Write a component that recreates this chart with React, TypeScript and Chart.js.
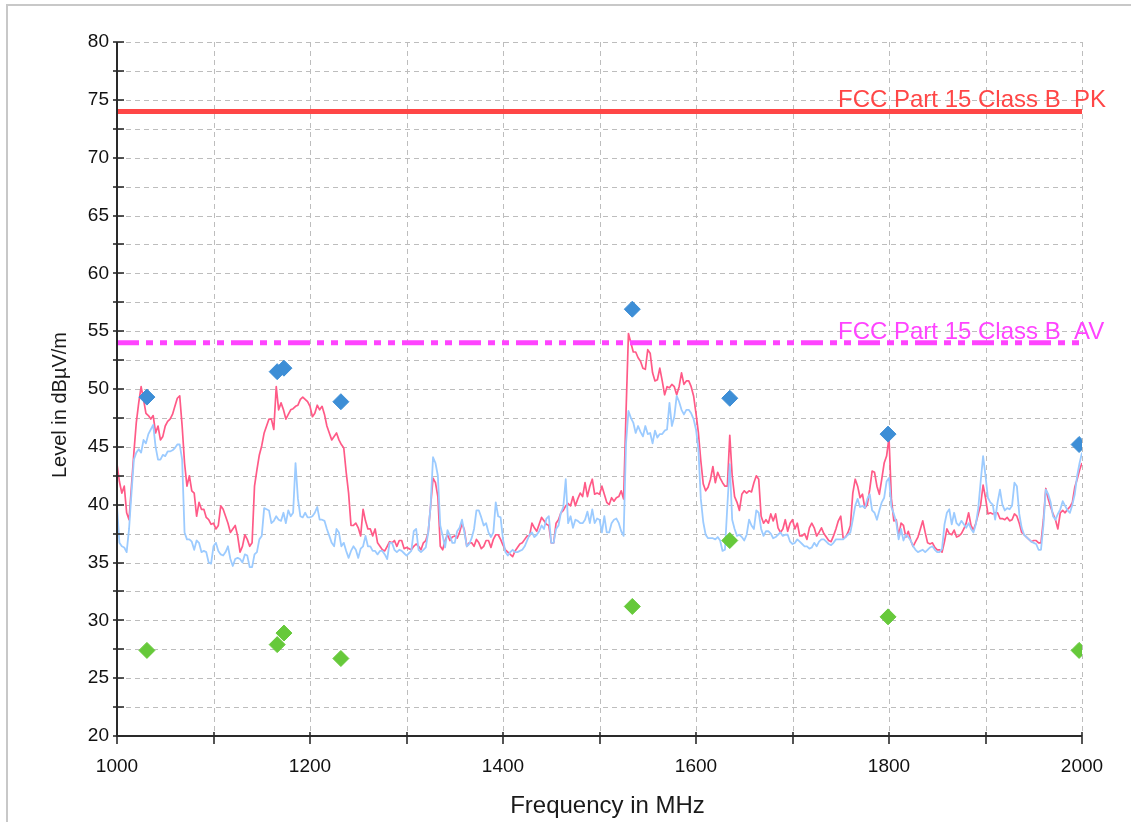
import { useEffect, useRef } from "react";
import { Chart, registerables } from "chart.js";

Chart.register(...registerables);

// Sweep grid of the measurement receiver (MHz)
const START_MHZ = 1000;
const STEP_MHZ = 2.5;

// Peak detector trace, dBµV/m, one value every STEP_MHZ
const PEAK_TRACE = [
  43.5, 42.0, 41.0, 41.6, 39.3, 38.7, 41.6, 44.5, 47.1, 48.8,
  50.2, 49.1, 47.9, 47.7, 47.4, 47.7, 46.2, 46.8, 45.6, 45.9,
  46.8, 47.2, 47.4, 47.8, 48.5, 49.2, 49.4, 46.8, 43.6, 41.6,
  42.5, 41.2, 41.0, 39.0, 40.2, 39.6, 39.6, 38.9, 38.7, 38.3,
  38.4, 37.9, 38.2, 39.9, 39.6, 39.0, 38.4, 37.6, 37.9, 38.2,
  37.3, 35.9, 36.4, 37.4, 37.0, 36.4, 36.7, 41.6, 43.0, 44.3,
  45.1, 46.2, 46.8, 47.4, 47.4, 46.5, 50.2, 48.2, 48.8, 48.2,
  47.4, 47.8, 48.2, 48.3, 48.5, 48.6, 49.1, 49.3, 49.1, 48.9,
  48.5, 47.6, 47.9, 48.6, 48.2, 48.5, 47.8, 46.8, 46.2, 45.6,
  45.9, 46.2, 45.6, 45.2, 44.9, 42.8, 41.0, 38.2, 38.2, 38.4,
  38.0, 37.3, 39.6, 38.6, 37.9, 37.9, 37.3, 37.9, 36.7, 36.4,
  36.1, 36.0, 36.4, 36.8, 36.7, 36.9, 36.4, 36.9, 36.9, 36.2,
  36.3, 36.2, 36.1, 36.4, 36.6, 36.4, 36.1, 36.7, 36.9, 37.6,
  39.9, 42.3, 41.9, 40.7, 36.4, 36.1, 36.9, 37.4, 36.9, 37.2,
  37.3, 37.1, 37.6, 38.4, 37.8, 36.4, 36.7, 36.7, 36.4, 37.0,
  36.7, 36.2, 36.4, 36.9, 36.9, 36.3, 37.0, 37.4, 37.4, 37.0,
  36.5, 36.1, 35.9, 35.7, 35.5, 36.0, 36.3, 36.6, 36.7, 37.0,
  37.3, 37.3, 38.4, 38.0, 37.7, 38.3, 38.9, 38.6, 38.3, 38.2,
  36.7, 36.7, 38.4, 38.7, 39.3, 39.5, 39.9, 40.1, 39.9, 40.7,
  39.9, 40.5, 41.0, 40.7, 41.9, 40.7, 41.6, 42.2, 40.9, 41.0,
  40.9, 41.6, 40.9, 40.2, 40.0, 40.6, 40.3, 40.6, 40.7, 41.2,
  40.5, 48.0, 54.8, 54.0, 53.2, 53.2, 52.7, 52.4, 51.8, 51.7,
  53.4, 53.1, 51.4, 50.7, 50.8, 51.8, 50.7, 49.5, 50.2, 50.1,
  50.4, 50.2, 49.5, 50.2, 51.4, 50.4, 50.7, 50.7, 50.2, 49.4,
  47.9, 46.2, 43.8, 41.8, 41.2, 41.5, 42.2, 43.3, 41.9, 42.8,
  42.3, 41.9, 41.6, 41.6, 46.0, 42.5, 40.7, 40.2, 39.5, 40.9,
  41.2, 41.0, 41.2, 41.1, 41.9, 42.5, 42.2, 39.0, 38.4, 38.7,
  38.4, 39.2, 38.6, 39.2, 38.0, 37.6, 37.9, 38.7, 37.7, 38.4,
  38.7, 37.9, 38.4, 37.3, 37.3, 37.5, 37.0, 38.0, 38.4, 38.0,
  37.3, 37.6, 38.0, 37.5, 37.2, 36.9, 36.8, 37.3, 37.9, 38.6,
  39.0, 37.1, 37.2, 37.6, 38.2, 41.0, 42.2, 41.6, 40.6, 40.9,
  39.7, 40.0, 41.3, 42.9, 42.8, 41.6, 40.9, 42.2, 43.6, 44.2,
  45.8, 40.5, 38.6, 38.7, 37.3, 38.4, 38.2, 37.2, 37.7, 36.9,
  36.4, 36.8, 37.2, 37.9, 38.6, 37.6, 36.7, 36.6, 36.7, 36.3,
  36.1, 36.1, 35.9, 36.8, 37.9, 37.5, 37.4, 37.8, 37.2, 37.3,
  37.5, 37.9, 38.4, 39.3, 38.2, 37.8, 38.4, 39.2, 40.0, 41.7,
  40.6, 39.2, 39.3, 39.2, 39.3, 39.3, 38.8, 38.8, 38.7, 38.9,
  38.6, 38.7, 39.2, 39.0, 38.4, 37.6, 37.4, 37.2, 37.0, 36.8,
  36.9, 36.9, 36.7, 36.7, 38.7, 41.4, 40.5, 39.8, 39.2, 38.7,
  37.9, 39.3, 39.5, 39.3, 39.6, 39.8, 40.2, 41.5, 42.2, 43.0,
  43.6,
];

// Average detector trace, dBµV/m, one value every STEP_MHZ
const AVERAGE_TRACE = [
  39.9, 36.7, 36.4, 36.3, 35.9, 37.9, 41.0, 43.9, 44.5, 44.8,
  44.5, 45.6, 45.3, 46.1, 46.5, 46.9, 45.0, 43.9, 43.9, 44.3,
  44.2, 44.6, 44.6, 44.7, 44.9, 45.2, 45.2, 43.9, 37.6, 37.0,
  37.0, 36.8, 36.1, 36.9, 36.7, 35.9, 36.0, 35.9, 35.0, 34.9,
  36.4, 36.7, 36.0, 35.7, 35.6, 35.9, 36.4, 35.3, 34.7, 35.3,
  35.4, 35.3, 35.0, 35.7, 35.6, 34.6, 34.6, 35.7, 35.9, 37.0,
  37.3, 39.7, 39.6, 39.5, 38.4, 38.6, 39.0, 38.7, 38.6, 39.3,
  38.4, 39.5, 39.0, 39.3, 43.6, 40.5, 39.0, 38.9, 39.3, 38.9,
  38.9, 39.0, 39.3, 39.8, 38.7, 38.7, 38.6, 37.9, 37.3, 36.7,
  36.4, 37.9, 37.6, 36.4, 36.7, 36.0, 35.4, 36.0, 36.4, 36.1,
  35.4, 36.2, 36.4, 37.3, 36.4, 36.4, 36.0, 36.0, 35.7, 36.0,
  36.0, 35.7, 35.3, 36.7, 36.7, 36.1, 35.9, 36.1, 36.0, 35.8,
  35.6, 35.8, 36.0, 37.7, 37.9, 36.1, 35.9, 36.1, 36.3, 37.6,
  39.9, 44.1, 43.6, 42.5, 38.2, 37.3, 36.3, 37.8, 37.3, 36.7,
  36.7, 37.7, 38.0, 38.7, 37.6, 36.4, 36.6, 37.1, 37.9, 39.5,
  39.5, 38.9, 38.2, 38.4, 37.6, 37.2, 37.6, 40.2, 39.0, 38.9,
  37.0, 35.9, 35.6, 35.9, 36.1, 35.9, 35.9, 36.0, 36.1, 36.4,
  36.9, 37.4, 37.6, 37.2, 37.4, 37.7, 38.2, 37.9, 38.8, 39.0,
  36.7, 36.7, 37.9, 38.2, 39.3, 39.8, 42.2, 38.4, 39.0, 38.0,
  38.7, 38.6, 38.4, 38.4, 38.7, 39.4, 38.4, 39.6, 38.4, 38.8,
  38.7, 37.6, 39.0, 37.6, 37.6, 38.4, 38.7, 38.8, 38.4, 37.7,
  37.3, 45.3, 48.1, 47.5, 47.1, 46.2, 46.8, 46.3, 45.9, 46.8,
  46.1, 46.2, 45.3, 46.4, 45.8, 46.1, 46.1, 46.4, 46.5, 48.8,
  46.8, 47.6, 49.4, 48.9, 48.2, 47.8, 48.2, 48.2, 47.9, 47.4,
  46.5, 44.8, 40.5, 38.5, 37.4, 37.1, 37.1, 37.1, 37.0, 37.2,
  36.9, 36.0, 36.1, 39.9, 43.5, 38.7, 37.9, 37.3, 37.4, 37.2,
  36.9, 37.4, 38.7, 38.2, 37.9, 39.5, 39.3, 37.9, 37.3, 37.7,
  37.7, 37.5, 37.1, 37.2, 37.4, 37.6, 37.3, 37.4, 37.4, 36.8,
  36.6, 36.7, 37.0, 36.8, 36.6, 36.4, 36.4, 36.2, 36.3, 36.7,
  36.4, 36.8, 37.0, 37.0, 36.8, 36.6, 36.5, 36.7, 37.0, 37.0,
  37.0, 37.0, 37.2, 37.4, 37.6, 38.7, 39.9, 40.5, 39.8, 39.9,
  39.7, 40.5, 40.9, 39.5, 39.3, 38.7, 39.5, 40.2, 40.6, 42.0,
  42.3, 39.8, 39.2, 38.5, 37.0, 37.9, 36.9, 37.4, 37.2, 36.9,
  36.4, 36.1, 35.9, 36.0, 36.1, 35.9, 36.1, 36.3, 36.4, 36.1,
  35.9, 35.9, 36.2, 38.3, 39.3, 39.6, 38.3, 39.3, 38.4, 38.2,
  38.6, 38.3, 38.0, 38.4, 37.9, 37.6, 38.3, 39.7, 42.0, 44.2,
  42.5, 40.6, 40.2, 40.0, 38.7, 40.2, 41.3, 40.0, 39.5, 39.7,
  39.6, 39.9, 41.9, 41.6, 39.2, 38.0, 37.4, 37.2, 37.0, 36.8,
  36.7, 36.6, 36.1, 36.1, 38.2, 41.3, 40.9, 40.2, 39.0, 38.7,
  39.2, 39.6, 40.3, 39.9, 39.5, 39.3, 40.0, 40.9, 42.5, 43.6,
  44.5,
];

// Final measurements
const FINAL_MHZ = [1031, 1166, 1173, 1232, 1534, 1635, 1799, 1997];
const FINAL_PEAK = [49.3, 51.5, 51.8, 48.9, 56.9, 49.2, 46.1, 45.2];
const FINAL_AVERAGE = [27.4, 27.9, 28.9, 26.7, 31.2, 36.9, 30.3, 27.4];

// Limits
const LIMIT_PK = 74;
const LIMIT_AV = 54;
const LIMIT_PK_LABEL = "FCC Part 15 Class B  PK";
const LIMIT_AV_LABEL = "FCC Part 15 Class B  AV";

// Axes
const X_MIN = 1000;
const X_MAX = 2000;
const X_STEP = 100;
const X_LABEL_EVERY = 200;
const Y_MIN = 20;
const Y_MAX = 80;
const Y_STEP = 2.5;
const Y_LABEL_EVERY = 5;
const X_TITLE = "Frequency in MHz";
const Y_TITLE = "Level in dBµV/m";

const FONT = "'Liberation Sans', Arial, Helvetica, sans-serif";
const GRID_COLOR = "#bdbdbd";
const AXIS_COLOR = "#2a2a2a";
const PEAK_COLOR = "#ff5a87";
const AVERAGE_COLOR = "#9ccbff";
const FINAL_PEAK_COLOR = "#3d8ed6";
const FINAL_AVERAGE_COLOR = "#66c93a";
const PK_COLOR = "#ff4646";
const AV_COLOR = "#ff44ff";

const freqs = PEAK_TRACE.map((_, i) => START_MHZ + i * STEP_MHZ);
const toPoints = (xs: number[], ys: number[]) => ys.map((y, i) => ({ x: xs[i], y }));

const measurementDecor = {
  id: "measurementDecor",
  beforeDatasetsDraw(chart: any) {
    const { ctx, chartArea: a, scales } = chart;
    const x = scales.x;
    const y = scales.y;
    ctx.save();
    ctx.strokeStyle = GRID_COLOR;
    ctx.lineWidth = 1;
    ctx.setLineDash([5, 4]);
    for (const t of x.ticks) {
      const px = Math.round(x.getPixelForValue(t.value)) + 0.5;
      ctx.beginPath();
      ctx.moveTo(px, a.top);
      ctx.lineTo(px, a.bottom);
      ctx.stroke();
    }
    for (const t of y.ticks) {
      const py = Math.round(y.getPixelForValue(t.value)) + 0.5;
      ctx.beginPath();
      ctx.moveTo(a.left, py);
      ctx.lineTo(a.right, py);
      ctx.stroke();
    }
    ctx.restore();
  },
  afterDatasetsDraw(chart: any) {
    const { ctx, chartArea: a, scales } = chart;
    const y = scales.y;
    ctx.save();
    ctx.font = `24px ${FONT}`;
    ctx.textAlign = "left";
    ctx.textBaseline = "alphabetic";
    ctx.fillStyle = PK_COLOR;
    ctx.fillText(LIMIT_PK_LABEL, a.right - 244, y.getPixelForValue(LIMIT_PK) - 4);
    ctx.fillStyle = AV_COLOR;
    ctx.fillText(LIMIT_AV_LABEL, a.right - 244, y.getPixelForValue(LIMIT_AV) - 4);
    ctx.restore();
  },
  afterDraw(chart: any) {
    const { ctx, chartArea: a, scales } = chart;
    const x = scales.x;
    const y = scales.y;
    ctx.save();
    ctx.strokeStyle = AXIS_COLOR;
    ctx.lineWidth = 2;
    ctx.beginPath();
    ctx.moveTo(a.left, a.top);
    ctx.lineTo(a.left, a.bottom);
    ctx.lineTo(a.right, a.bottom);
    ctx.stroke();
    ctx.lineWidth = 1.6;
    for (const t of y.ticks) {
      const py = Math.round(y.getPixelForValue(t.value));
      ctx.beginPath();
      ctx.moveTo(a.left - 4, py);
      ctx.lineTo(a.left + 7, py);
      ctx.stroke();
    }
    for (const t of x.ticks) {
      const px = Math.round(x.getPixelForValue(t.value));
      ctx.beginPath();
      ctx.moveTo(px, a.bottom - 4);
      ctx.lineTo(px, a.bottom + 8);
      ctx.stroke();
    }
    ctx.fillStyle = "#1a1a1a";
    ctx.textAlign = "center";
    ctx.textBaseline = "middle";
    ctx.font = `24px ${FONT}`;
    ctx.fillText(X_TITLE, (a.left + a.right) / 2 + 8, 806);
    ctx.save();
    ctx.translate(60, (a.top + a.bottom) / 2 + 16);
    ctx.rotate(-Math.PI / 2);
    ctx.font = `20px ${FONT}`;
    ctx.fillText(Y_TITLE, 0, 0);
    ctx.restore();
    ctx.restore();
  },
};

export default function App() {
  const canvasRef = useRef<HTMLCanvasElement | null>(null);

  useEffect(() => {
    const canvas = canvasRef.current;
    if (!canvas) return;
    const chart = new Chart(canvas, {
      type: "line",
      data: {
        datasets: [
          {
            label: "Final peak",
            data: toPoints(FINAL_MHZ, FINAL_PEAK),
            showLine: false,
            pointStyle: "rectRot",
            pointRadius: 8,
            pointBackgroundColor: FINAL_PEAK_COLOR,
            pointBorderColor: FINAL_PEAK_COLOR,
            borderColor: FINAL_PEAK_COLOR,
            backgroundColor: FINAL_PEAK_COLOR,
            order: 0,
          },
          {
            label: "Final average",
            data: toPoints(FINAL_MHZ, FINAL_AVERAGE),
            showLine: false,
            pointStyle: "rectRot",
            pointRadius: 8,
            pointBackgroundColor: FINAL_AVERAGE_COLOR,
            pointBorderColor: FINAL_AVERAGE_COLOR,
            borderColor: FINAL_AVERAGE_COLOR,
            backgroundColor: FINAL_AVERAGE_COLOR,
            order: 1,
          },
          {
            label: LIMIT_PK_LABEL,
            data: [
              { x: X_MIN, y: LIMIT_PK },
              { x: X_MAX, y: LIMIT_PK },
            ],
            borderColor: PK_COLOR,
            borderWidth: 5,
            pointRadius: 0,
            borderCapStyle: "butt",
            order: 2,
          },
          {
            label: LIMIT_AV_LABEL,
            data: [
              { x: X_MIN, y: LIMIT_AV },
              { x: X_MAX, y: LIMIT_AV },
            ],
            borderColor: AV_COLOR,
            borderWidth: 5,
            borderDash: [22, 7, 7, 7, 7, 7],
            pointRadius: 0,
            borderCapStyle: "butt",
            order: 3,
          },
          {
            label: "Average",
            data: toPoints(freqs, AVERAGE_TRACE),
            borderColor: AVERAGE_COLOR,
            borderWidth: 1.8,
            pointRadius: 0,
            borderJoinStyle: "round",
            order: 4,
          },
          {
            label: "Peak",
            data: toPoints(freqs, PEAK_TRACE),
            borderColor: PEAK_COLOR,
            borderWidth: 1.7,
            pointRadius: 0,
            borderJoinStyle: "round",
            order: 5,
          },
        ],
      },
      options: {
        animation: false,
        responsive: false,
        layout: { padding: { left: 0, right: 49, top: 42, bottom: 0 } },
        plugins: {
          legend: { display: false },
          tooltip: { enabled: false },
        },
        scales: {
          x: {
            type: "linear",
            min: X_MIN,
            max: X_MAX,
            grid: { display: false, drawTicks: false },
            border: { display: false },
            ticks: {
              stepSize: X_STEP,
              autoSkip: false,
              maxRotation: 0,
              padding: 19,
              color: "#111111",
              font: { family: FONT, size: 19 },
              callback: (v: any) => (Number(v) % X_LABEL_EVERY === 0 ? String(v) : ""),
            },
            afterFit: (s: any) => {
              s.height = 86;
            },
          },
          y: {
            type: "linear",
            min: Y_MIN,
            max: Y_MAX,
            grid: { display: false, drawTicks: false },
            border: { display: false },
            ticks: {
              stepSize: Y_STEP,
              autoSkip: false,
              padding: 8,
              color: "#111111",
              font: { family: FONT, size: 19 },
              callback: (v: any) => (Number(v) % Y_LABEL_EVERY === 0 ? String(v) : ""),
            },
            afterFit: (s: any) => {
              s.width = 117;
            },
          },
        },
      },
      plugins: [measurementDecor],
    });
    return () => chart.destroy();
  }, []);

  return (
    <div
      style={{
        position: "fixed",
        left: 0,
        top: 0,
        width: 1131,
        height: 822,
        overflow: "hidden",
        background: "#ffffff",
      }}
    >
      <div
        style={{
          position: "absolute",
          left: 6,
          top: 4,
          width: 1200,
          height: 900,
          borderLeft: "2px solid #c8c8c8",
          borderTop: "2px solid #c8c8c8",
        }}
      />
      <canvas
        ref={canvasRef}
        width={1131}
        height={822}
        style={{ position: "absolute", left: 0, top: 0, width: 1131, height: 822 }}
      />
    </div>
  );
}
